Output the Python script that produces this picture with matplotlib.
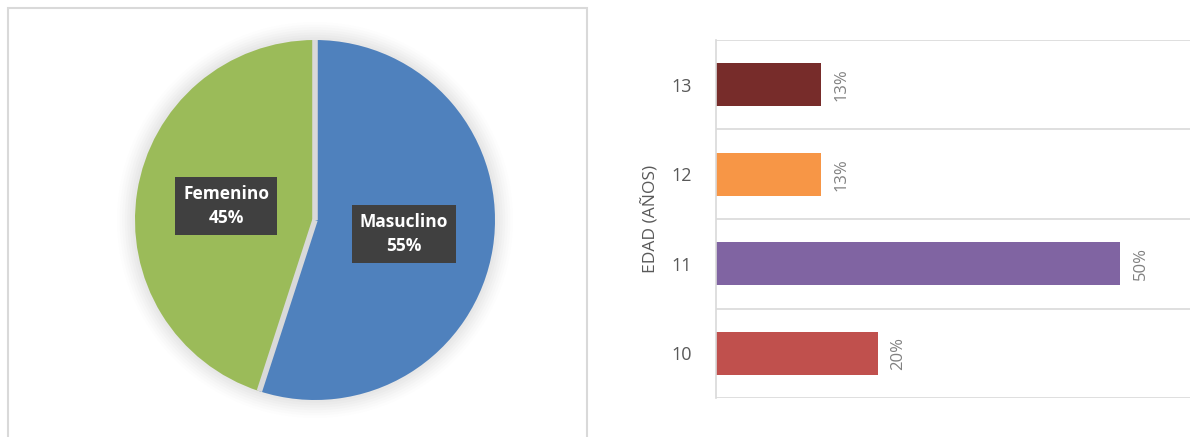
import numpy as np
import matplotlib.pyplot as plt
from matplotlib.patches import Rectangle, Circle

# datos del grafico de sexo
sexo = ["Masuclino", "Femenino"]
sexo_pct = [55, 45]
sexo_colores = ["#4F81BD", "#9BBB59"]

# datos del grafico de edad
edades = ["10", "11", "12", "13"]
edad_pct = [20, 50, 13, 13]
edad_colores = ["#C0504D", "#8064A2", "#F79646", "#772C2A"]

plt.rcParams['font.family'] = ['Open Sans', 'DejaVu Sans']

W, H = 1190, 437
fig = plt.figure(figsize=(W / 100, H / 100), dpi=100)

def px(x0, y0, x1, y1):
    # caja en pixeles (origen arriba a la izquierda) -> coordenadas de figura
    return [x0 / W, 1 - y1 / H, (x1 - x0) / W, (y1 - y0) / H]

# marco del grafico de la izquierda
fig.patches.append(Rectangle((8 / W, -0.1), (587 - 8) / W, 1.1 - 8 / H,
                             transform=fig.transFigure, fill=False,
                             edgecolor="#d9d9d9", linewidth=1.5))

# pie
ax1 = fig.add_axes(px(135, 40, 495, 400))
# sombra suave alrededor
for r, a in zip(np.linspace(1.1, 1.0, 8), np.linspace(0.015, 0.04, 8)):
    ax1.add_patch(Circle((0, 0), r, color="#808080", alpha=a, linewidth=0, clip_on=False))
wedges, _ = ax1.pie(sexo_pct, colors=sexo_colores, startangle=90, counterclock=False,
                    wedgeprops=dict(linewidth=0))
for w in wedges:
    t = np.deg2rad(w.theta1)
    ax1.plot([0, np.cos(t)], [0, np.sin(t)], color="#d9d9d9", linewidth=4,
             solid_capstyle="butt")
ax1.set_xlim(-1, 1)
ax1.set_ylim(-1, 1)
ax1.set_aspect("equal")
for w, nombre, v in zip(wedges, sexo, sexo_pct):
    mid = np.deg2rad((w.theta1 + w.theta2) / 2)
    ax1.text(0.5 * np.cos(mid), 0.5 * np.sin(mid), f"{nombre}\n{v}%",
             ha="center", va="center", color="white", fontsize=12.5, fontweight="bold",
             linespacing=1.45,
             bbox=dict(boxstyle="square,pad=0.45", facecolor="#404040", edgecolor="none"))

# barras
ax2 = fig.add_axes(px(716, 40, 1190, 398))
y = np.arange(len(edades))
ax2.barh(y, edad_pct, height=0.48, color=edad_colores)
ax2.set_xlim(0, (1190 - 716) / 8.08)
ax2.set_ylim(-0.5, len(edades) - 0.5)
for yy, v in zip(y, edad_pct):
    ax2.text(v + 1.6, yy, f"{v}%", rotation=90, ha="left", va="center",
             color="#808080", fontsize=12)
ax2.set_yticks(y)
ax2.set_yticklabels(edades, fontsize=13, color="#595959")
ax2.tick_params(axis="y", length=0, pad=17)
ax2.set_xticks([])
for yy in np.arange(-0.5, len(edades), 1):
    ax2.axhline(yy, color="#d9d9d9", linewidth=1.2)
for s in ["top", "right", "bottom"]:
    ax2.spines[s].set_visible(False)
ax2.spines["left"].set_color("#d9d9d9")
ax2.spines["left"].set_linewidth(1.2)
ax2.set_ylabel("EDAD (AÑOS)", fontsize=12.5, color="#595959", labelpad=9)

fig.savefig("out.png", dpi=100)
